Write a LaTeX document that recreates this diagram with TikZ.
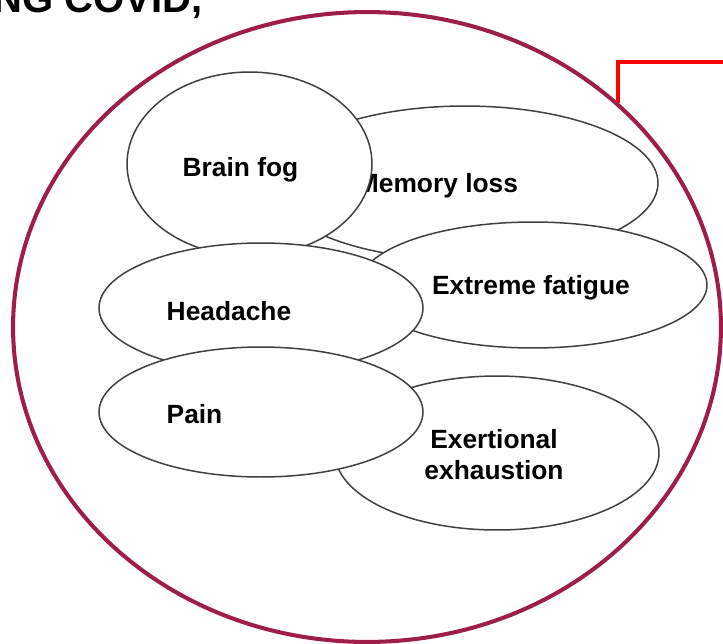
\documentclass[tikz,border=0pt]{standalone}
\usepackage{fontspec}
\setmainfont{Liberation Sans}
\usetikzlibrary{shapes.geometric,calc}
\definecolor{framecol}{RGB}{158,30,72}
\definecolor{bubbleline}{RGB}{64,64,64}

\begin{document}
\begin{tikzpicture}[x=0.02cm,y=-0.02cm,
  bubble/.style={ellipse,draw=bubbleline,line width=0.85pt,fill=white,inner sep=0pt},
  lbl/.style={font=\fontsize{15}{17.1}\selectfont\bfseries,inner sep=0pt,anchor=base,align=center}]
  \useasboundingbox (0,0) rectangle (723,643);
  \node[anchor=base east,inner sep=0pt,font=\fontsize{22.8}{27}\selectfont\bfseries] (title) at (203,12) {LONG COVID,};
  \node[ellipse,draw=framecol,line width=2.3pt,minimum width=14.16cm,minimum height=12.6cm,inner sep=0pt] (frame) at (367,327) {};
  \coordinate (redfoot) at (618,103);
  \coordinate (redtop) at (618,62);
  \coordinate (redend) at (723,62);
  \draw[red,line width=2pt] (redfoot) -- (redtop) -- (redend);

  \node[bubble,minimum width=7.72cm,minimum height=3.08cm] (memory) at (465,183) {};
  \node[lbl] (memorytxt) at ($(memory.center)+(-27.5,9)$) {Memory loss};
  \node[bubble,minimum width=4.9cm,minimum height=3.68cm] (brainfog) at (249.5,164) {};
  \node[lbl] (brainfogtxt) at ($(brainfog.center)+(-9,12)$) {Brain fog};
  \node[bubble,minimum width=6.96cm,minimum height=2.52cm] (fatigue) at (533,285) {};
  \node[lbl] (fatiguetxt) at ($(fatigue.center)+(-2,9)$) {Extreme fatigue};
  \node[bubble,minimum width=6.48cm,minimum height=2.6cm] (headache) at (261,308) {};
  \node[lbl] (headachetxt) at ($(headache.center)+(-32,12)$) {Headache};
  \node[bubble,minimum width=6.48cm,minimum height=3.08cm] (exertion) at (497,453) {};
  \node[lbl] (exertiontxt) at ($(exertion.center)+(-3,26)$) {Exertional\\exhaustion};
  \node[bubble,minimum width=6.48cm,minimum height=2.6cm] (pain) at (261,412) {};
  \node[lbl] (paintxt) at ($(pain.center)+(-66.5,11)$) {Pain};
\end{tikzpicture}
\end{document}
